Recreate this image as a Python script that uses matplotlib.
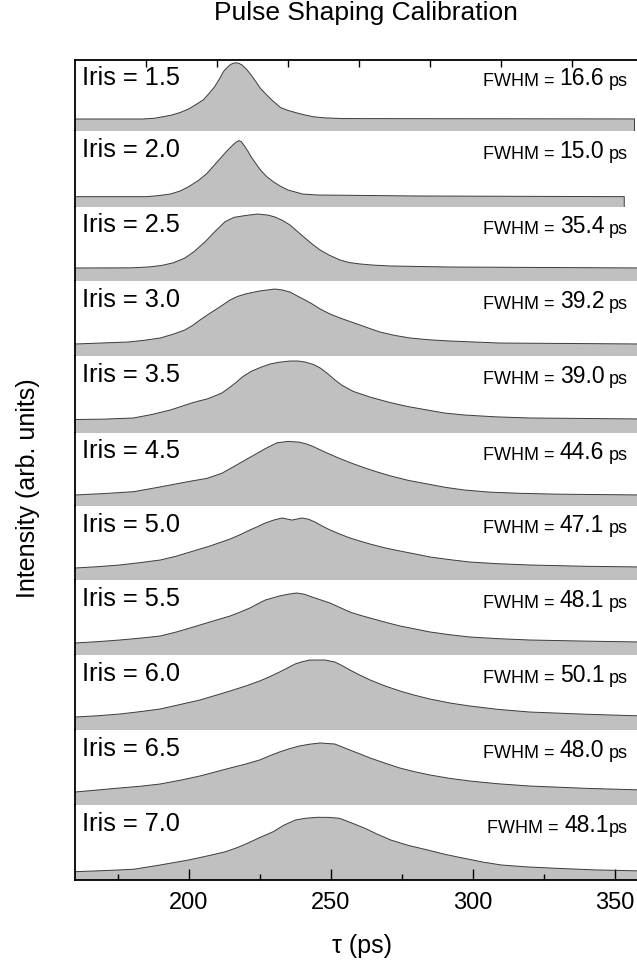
import matplotlib
matplotlib.use("Agg")
import matplotlib.pyplot as plt

plt.rcParams['font.family'] = ['Liberation Sans', 'DejaVu Sans']

# ---------------- data ----------------
iris_labels = ["1.5", "2.0", "2.5", "3.0", "3.5", "4.5", "5.0", "5.5", "6.0", "6.5", "7.0"]
fwhm_values = ["16.6", "15.0", "35.4", "39.2", "39.0", "44.6", "47.1", "48.1", "50.1", "48.0", "48.1"]

tau_15 = [160, 183.8, 188, 193.6, 197, 200, 202.5, 205.2, 207, 209.1, 210.8, 212.3, 213.7, 214.9, 215.8,
          216.6, 217.6, 218.8, 220.4, 222, 223.6, 225.3, 227.2, 229.2, 232.4, 235, 237.6, 240.5, 244, 248, 254.4, 357]
val_15 = [0.169, 0.169, 0.18, 0.22, 0.26, 0.31, 0.37, 0.44, 0.52, 0.62, 0.73, 0.84, 0.90, 0.94, 0.955,
          0.96, 0.955, 0.93, 0.87, 0.79, 0.70, 0.60, 0.52, 0.44, 0.33, 0.29, 0.26, 0.23, 0.20, 0.185, 0.175, 0.17]

tau_20 = [160, 185.1, 189.5, 193.6, 197, 200, 203.5, 206.5, 209, 211.7, 213.8, 215.6, 216.8, 217.7, 218.6,
          219.4, 220.8, 222, 223.7, 225.3, 227.5, 229.8, 232.5, 235, 240.1, 245.4, 280, 353.4]
val_20 = [0.136, 0.136, 0.15, 0.171, 0.21, 0.267, 0.35, 0.443, 0.55, 0.662, 0.75, 0.816, 0.855, 0.873, 0.86,
          0.816, 0.74, 0.662, 0.57, 0.487, 0.40, 0.333, 0.27, 0.224, 0.171, 0.158, 0.145, 0.136]

tau_25 = [160, 180, 186, 190.5, 194.5, 198.7, 202, 205.8, 209.3, 212.8, 216, 220, 224.4, 228, 230.4, 233,
          235.7, 238.3, 241, 243.5, 246.3, 249.5, 253.3, 256.5, 260.4, 265, 271, 292, 360]
val_25 = [0.176, 0.178, 0.19, 0.21, 0.245, 0.31, 0.40, 0.53, 0.67, 0.80, 0.86, 0.885, 0.905, 0.89, 0.865, 0.82,
          0.757, 0.67, 0.581, 0.50, 0.419, 0.35, 0.284, 0.25, 0.23, 0.215, 0.203, 0.189, 0.176]

tau_30 = [160, 179, 184.5, 190, 194.5, 198.7, 201.5, 204, 206.7, 209.3, 212, 214.6, 217.3, 220, 225, 230.4,
          233, 235.7, 238.3, 241, 243.7, 246.3, 249.8, 253.3, 256.8, 260.4, 263.9, 267.4, 272.5, 278, 285, 292, 309.6, 360]
val_30 = [0.16, 0.187, 0.21, 0.24, 0.29, 0.347, 0.41, 0.48, 0.55, 0.613, 0.68, 0.747, 0.795, 0.827, 0.867, 0.893,
          0.88, 0.853, 0.80, 0.747, 0.69, 0.627, 0.56, 0.507, 0.46, 0.413, 0.365, 0.32, 0.275, 0.24, 0.215, 0.2, 0.173, 0.16]

tau_35 = [160, 170, 180.6, 187, 193.6, 197, 200, 203, 206.5, 209, 211.7, 214, 216.5, 219, 222, 225.5, 228.7,
          232, 235.7, 238.5, 241, 244, 246.5, 249, 251.5, 254, 258, 264, 271, 277, 284, 290, 297, 308, 320, 360]
val_35 = [0.175, 0.18, 0.195, 0.24, 0.299, 0.34, 0.377, 0.41, 0.442, 0.478, 0.519, 0.58, 0.65, 0.73, 0.80,
          0.855, 0.896, 0.92, 0.935, 0.935, 0.922, 0.89, 0.84, 0.77, 0.69, 0.62, 0.54, 0.465, 0.395, 0.345, 0.299,
          0.26, 0.234, 0.21, 0.195, 0.182]

tau_45 = [160, 170, 180.6, 187, 193.6, 200, 206.5, 211.7, 216.9, 222, 227.2, 231.1, 235, 238.9, 241.5, 244,
          248.5, 253.1, 257.5, 262.1, 266.5, 271.2, 277.5, 284.2, 290.5, 297.1, 306, 316.5, 330, 360]
val_45 = [0.151, 0.17, 0.196, 0.24, 0.288, 0.335, 0.379, 0.448, 0.562, 0.675, 0.79, 0.865, 0.885, 0.875,
          0.85, 0.812, 0.73, 0.653, 0.585, 0.521, 0.465, 0.411, 0.35, 0.301, 0.255, 0.219, 0.19, 0.174, 0.162, 0.151]

tau_50 = [160, 168, 175.8, 183, 190, 195.5, 200.5, 207.5, 214.6, 218, 221.6, 224.5, 227, 230, 232.9, 236.4,
          240, 242.3, 244.5, 247, 249.8, 253.3, 256.8, 260.4, 263.9, 269, 274.4, 280, 285, 292, 299, 309, 320, 340, 360]
val_50 = [0.162, 0.18, 0.203, 0.235, 0.27, 0.32, 0.378, 0.459, 0.554, 0.61, 0.676, 0.725, 0.77, 0.81, 0.838, 0.81,
          0.838, 0.82, 0.784, 0.73, 0.676, 0.62, 0.568, 0.525, 0.486, 0.435, 0.392, 0.35, 0.311, 0.275, 0.243, 0.22,
          0.203, 0.185, 0.176]

tau_55 = [160, 168, 175.8, 183, 190, 195.5, 200.5, 207.5, 214.6, 218, 221.6, 224.5, 227, 232, 235, 238, 240.8,
          243.5, 246.5, 249.8, 253.3, 256.8, 260.4, 263.9, 269, 274.4, 280, 285, 292, 299, 309, 320, 340, 360]
val_55 = [0.16, 0.178, 0.2, 0.225, 0.253, 0.305, 0.36, 0.44, 0.52, 0.57, 0.627, 0.685, 0.733, 0.787, 0.81, 0.827,
          0.81, 0.773, 0.735, 0.693, 0.633, 0.573, 0.53, 0.493, 0.44, 0.387, 0.345, 0.307, 0.27, 0.24, 0.218, 0.2,
          0.185, 0.173]

tau_60 = [160, 168, 175.8, 183, 190, 197, 204, 209.3, 214.6, 220, 225, 228.5, 232, 235, 237.5, 240, 242.7, 248,
          251.5, 254, 256.8, 260.4, 263.9, 269, 274.4, 280, 285, 292, 299, 309, 320, 340, 360]
val_60 = [0.173, 0.19, 0.213, 0.245, 0.28, 0.34, 0.4, 0.46, 0.52, 0.585, 0.653, 0.71, 0.773, 0.83, 0.88, 0.91,
          0.933, 0.933, 0.907, 0.86, 0.8, 0.73, 0.667, 0.59, 0.52, 0.46, 0.413, 0.36, 0.32, 0.275, 0.24, 0.21, 0.187]

tau_65 = [160, 168, 175.8, 183, 190, 197, 204, 209.3, 214.6, 220, 225, 228.5, 232, 235.5, 239, 242.5, 246.3,
          251.5, 254, 256.8, 260.4, 263.9, 269, 274.4, 280, 285, 292, 299, 309, 320, 340, 360]
val_65 = [0.173, 0.2, 0.227, 0.25, 0.28, 0.33, 0.387, 0.44, 0.493, 0.545, 0.6, 0.655, 0.707, 0.75, 0.787, 0.81,
          0.827, 0.813, 0.775, 0.733, 0.68, 0.627, 0.56, 0.493, 0.44, 0.4, 0.355, 0.32, 0.283, 0.253, 0.222, 0.2]

tau_70 = [160, 170, 180.6, 190, 200, 206.5, 213, 217, 220.7, 225, 229.8, 233.5, 237.6, 241.5, 245.4, 249.3,
          253.1, 257.5, 262.1, 266.5, 271.2, 277.5, 284.2, 290.5, 297.1, 303.5, 310.1, 319, 329.5, 343, 360]
val_70 = [0.111, 0.125, 0.143, 0.2, 0.267, 0.32, 0.377, 0.43, 0.489, 0.565, 0.644, 0.73, 0.8, 0.825, 0.836, 0.835,
          0.823, 0.76, 0.689, 0.61, 0.533, 0.46, 0.4, 0.34, 0.289, 0.24, 0.2, 0.175, 0.156, 0.135, 0.12]

taus = [tau_15, tau_20, tau_25, tau_30, tau_35, tau_45, tau_50, tau_55, tau_60, tau_65, tau_70]
vals = [val_15, val_20, val_25, val_30, val_35, val_45, val_50, val_55, val_60, val_65, val_70]

major_ticks = [200, 250, 300, 350]
minor_ticks = [175, 225, 275, 325]
top_ticks = [185, 210, 235, 260, 285, 310, 335]

# ---------------- layout ----------------
W, H = 637, 966
fig = plt.figure(figsize=(W / 100, H / 100), dpi=100)
heights = [71, 76, 74, 75, 77, 73, 74, 75, 75, 75, 75]
gs = fig.add_gridspec(len(heights), 1, height_ratios=heights, hspace=0,
                      left=75 / W, right=643 / W, top=1 - 60 / H, bottom=1 - 880 / H)

fill_color = '#c0c0c0'
line_color = '#3c3c3c'
n = len(heights)
for i in range(n):
    ax = fig.add_subplot(gs[i])
    t, v = taus[i], vals[i]
    ax.fill_between(t, v, 0, facecolor=fill_color, edgecolor='none', lw=0)
    ax.plot(t + [t[-1]], v + [0], color=line_color, lw=0.7)
    ax.set_xlim(160, 360)
    ax.set_ylim(0, 1)
    ax.set_yticks([])
    for s in ['right', 'top', 'bottom']:
        ax.spines[s].set_visible(False)
    ax.spines['left'].set_linewidth(1.3)
    if i == 0:
        ax.spines['top'].set_visible(True)
        ax.spines['top'].set_linewidth(1.3)
        ax.set_xticks(top_ticks)
        ax.tick_params(axis='x', which='both', direction='in', top=True, bottom=False,
                       labeltop=False, labelbottom=False, length=5, width=1)
    elif i == n - 1:
        ax.spines['bottom'].set_visible(True)
        ax.spines['bottom'].set_linewidth(1.3)
        ax.set_xticks(major_ticks)
        ax.set_xticks(minor_ticks, minor=True)
        ax.tick_params(axis='x', which='major', direction='in', length=8, width=1,
                       labelsize=17, pad=9)
        ax.tick_params(axis='x', which='minor', direction='in', length=4.5, width=1)
    else:
        ax.set_xticks([])

    ax.text(0.013, 0.75, f"Iris = {iris_labels[i]}", transform=ax.transAxes,
            fontsize=18.3, ha='left', va='center')
    ps = ax.text(0.974, 0.63, "ps", transform=ax.transAxes, fontsize=13,
                 ha='right', va='baseline')
    gap = 0.5 if i == n - 1 else 3.5
    num = ax.annotate(fwhm_values[i], xy=(0, 0), xycoords=ps, xytext=(-gap, 0),
                      textcoords='offset points', fontsize=16.5, ha='right', va='bottom')
    ax.annotate("FWHM =", xy=(0, 0), xycoords=num, xytext=(-4, 0),
                textcoords='offset points', fontsize=13, ha='right', va='bottom')

fig.text(366 / W, 1 - 13 / H, "Pulse Shaping Calibration", fontsize=19, ha='center', va='center')
fig.text(28 / W, 1 - 488 / H, "Intensity (arb. units)", fontsize=18, rotation=90,
         ha='center', va='center')
fig.text(362 / W, 1 - 946 / H, "τ (ps)", fontsize=18, ha='center', va='center')

fig.savefig("out.png", dpi=100)
